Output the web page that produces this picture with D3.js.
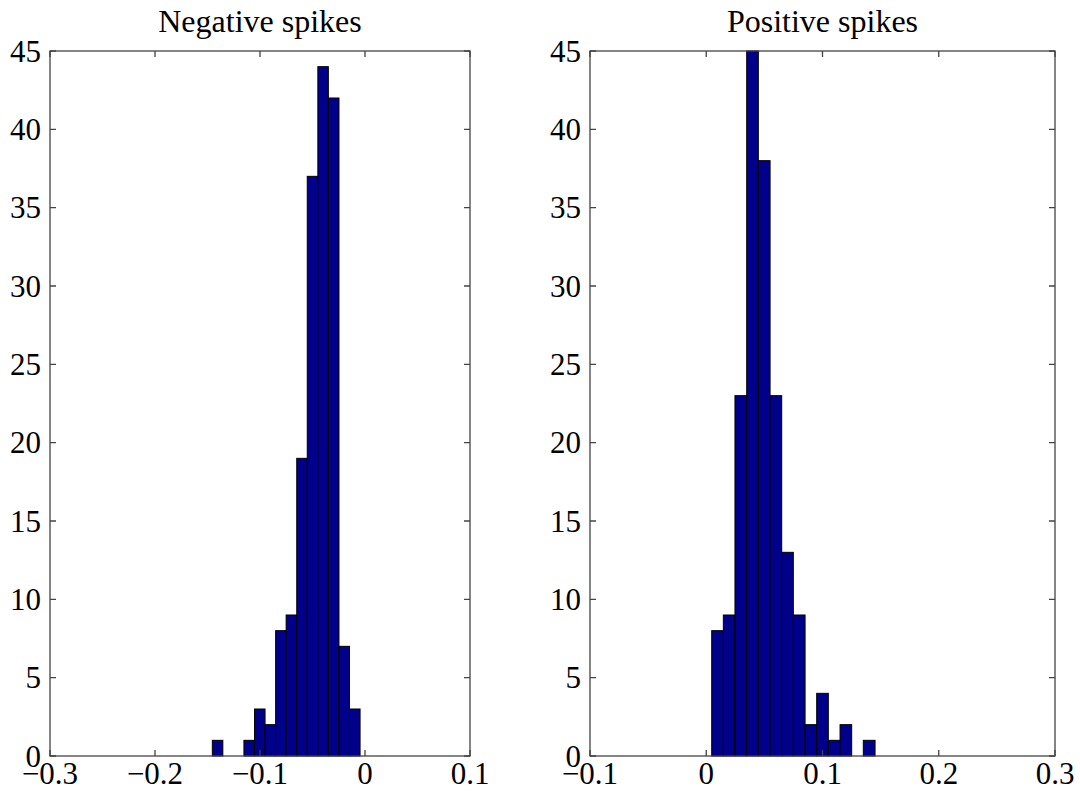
<!DOCTYPE html>
<html>
<head>
<meta charset="UTF-8">
<title>Spikes histograms</title>
<script src="https://d3js.org/d3.v7.min.js"></script>
<style>
	body { margin: 0; background: #fff; }
	text { font-family: "Liberation Serif", "DejaVu Serif", serif; fill: #000; }
</style>
</head>
<body>
<div id="chart"></div>
<script>
	// bin left edges (last entry is the right edge of the last bin) and counts
	let negEdges = [-0.1454, -0.1354, -0.1253, -0.1153, -0.1052, -0.0952, -0.0851, -0.0751,
		-0.0650, -0.0550, -0.0449, -0.0349, -0.0248, -0.0148, -0.0047];
	let negCounts = [1, 0, 0, 1, 3, 2, 8, 9, 19, 37, 44, 42, 7, 3];

	let posEdges = [0.0047, 0.0147, 0.0247, 0.0348, 0.0448, 0.0549, 0.0649, 0.0749,
		0.0850, 0.0950, 0.1050, 0.1151, 0.1251, 0.1351, 0.1452];
	let posCounts = [8, 9, 23, 45, 38, 23, 13, 9, 2, 4, 1, 2, 0, 1];

	let negXTicks = [-0.3, -0.2, -0.1, 0, 0.1];
	let posXTicks = [-0.1, 0, 0.1, 0.2, 0.3];
	let yTicks = [0, 5, 10, 15, 20, 25, 30, 35, 40, 45];

	let width = 1080;
	let height = 792;
	let svg = d3.select("#chart").append("svg")
		.attr("width", width)
		.attr("height", height);

	let plotTop = 51, plotBottom = 756;
	let y = d3.scaleLinear().domain([0, 45]).range([plotBottom, plotTop]);

	function fmt(v) {
		let s = d3.format("")(+v.toFixed(2));
		return s.replace("-", "\u2212");
	}

	function drawPanel(title, edges, counts, xTicks, left, right) {
		let x = d3.scaleLinear().domain([xTicks[0], xTicks[xTicks.length - 1]]).range([left, right]);
		let g = svg.append("g");

		let bins = counts.map((c, i) => ({ x0: edges[i], x1: edges[i + 1], n: c }))
			.filter(d => d.n > 0);

		g.selectAll("rect")
			.data(bins)
			.join("rect")
			.attr("x", d => x(d.x0))
			.attr("width", d => x(d.x1) - x(d.x0))
			.attr("y", d => y(d.n))
			.attr("height", d => y(0) - y(d.n))
			.attr("fill", "#00008b")
			.attr("stroke", "#000")
			.attr("stroke-width", 1);

		// frame
		g.append("rect")
			.attr("x", left).attr("y", plotTop)
			.attr("width", right - left).attr("height", plotBottom - plotTop)
			.attr("fill", "none")
			.attr("stroke", "#444")
			.attr("stroke-width", 1.3);

		let tl = 6;
		// x ticks (bottom and top, pointing inward)
		g.selectAll(".xt")
			.data(xTicks)
			.join("path")
			.attr("d", d => `M${x(d)},${plotBottom}v${-tl}M${x(d)},${plotTop}v${tl}`)
			.attr("stroke", "#444")
			.attr("stroke-width", 1.3);
		// y ticks (left and right, inward)
		g.selectAll(".yt")
			.data(yTicks)
			.join("path")
			.attr("d", d => `M${left},${y(d)}h${tl}M${right},${y(d)}h${-tl}`)
			.attr("stroke", "#444")
			.attr("stroke-width", 1.3);

		g.selectAll(".xl")
			.data(xTicks)
			.join("text")
			.attr("x", d => x(d))
			.attr("y", 784)
			.attr("text-anchor", "middle")
			.attr("font-size", 31)
			.text(d => fmt(d));

		g.selectAll(".yl")
			.data(yTicks)
			.join("text")
			.attr("x", left - 9)
			.attr("y", d => y(d))
			.attr("dy", "0.34em")
			.attr("text-anchor", "end")
			.attr("font-size", 31)
			.text(d => d);

		g.append("text")
			.attr("x", (left + right) / 2)
			.attr("y", 32)
			.attr("text-anchor", "middle")
			.attr("font-size", 32)
			.text(title);
	}

	drawPanel("Negative spikes", negEdges, negCounts, negXTicks, 50, 470);
	drawPanel("Positive spikes", posEdges, posCounts, posXTicks, 590, 1055);
</script>
</body>
</html>
